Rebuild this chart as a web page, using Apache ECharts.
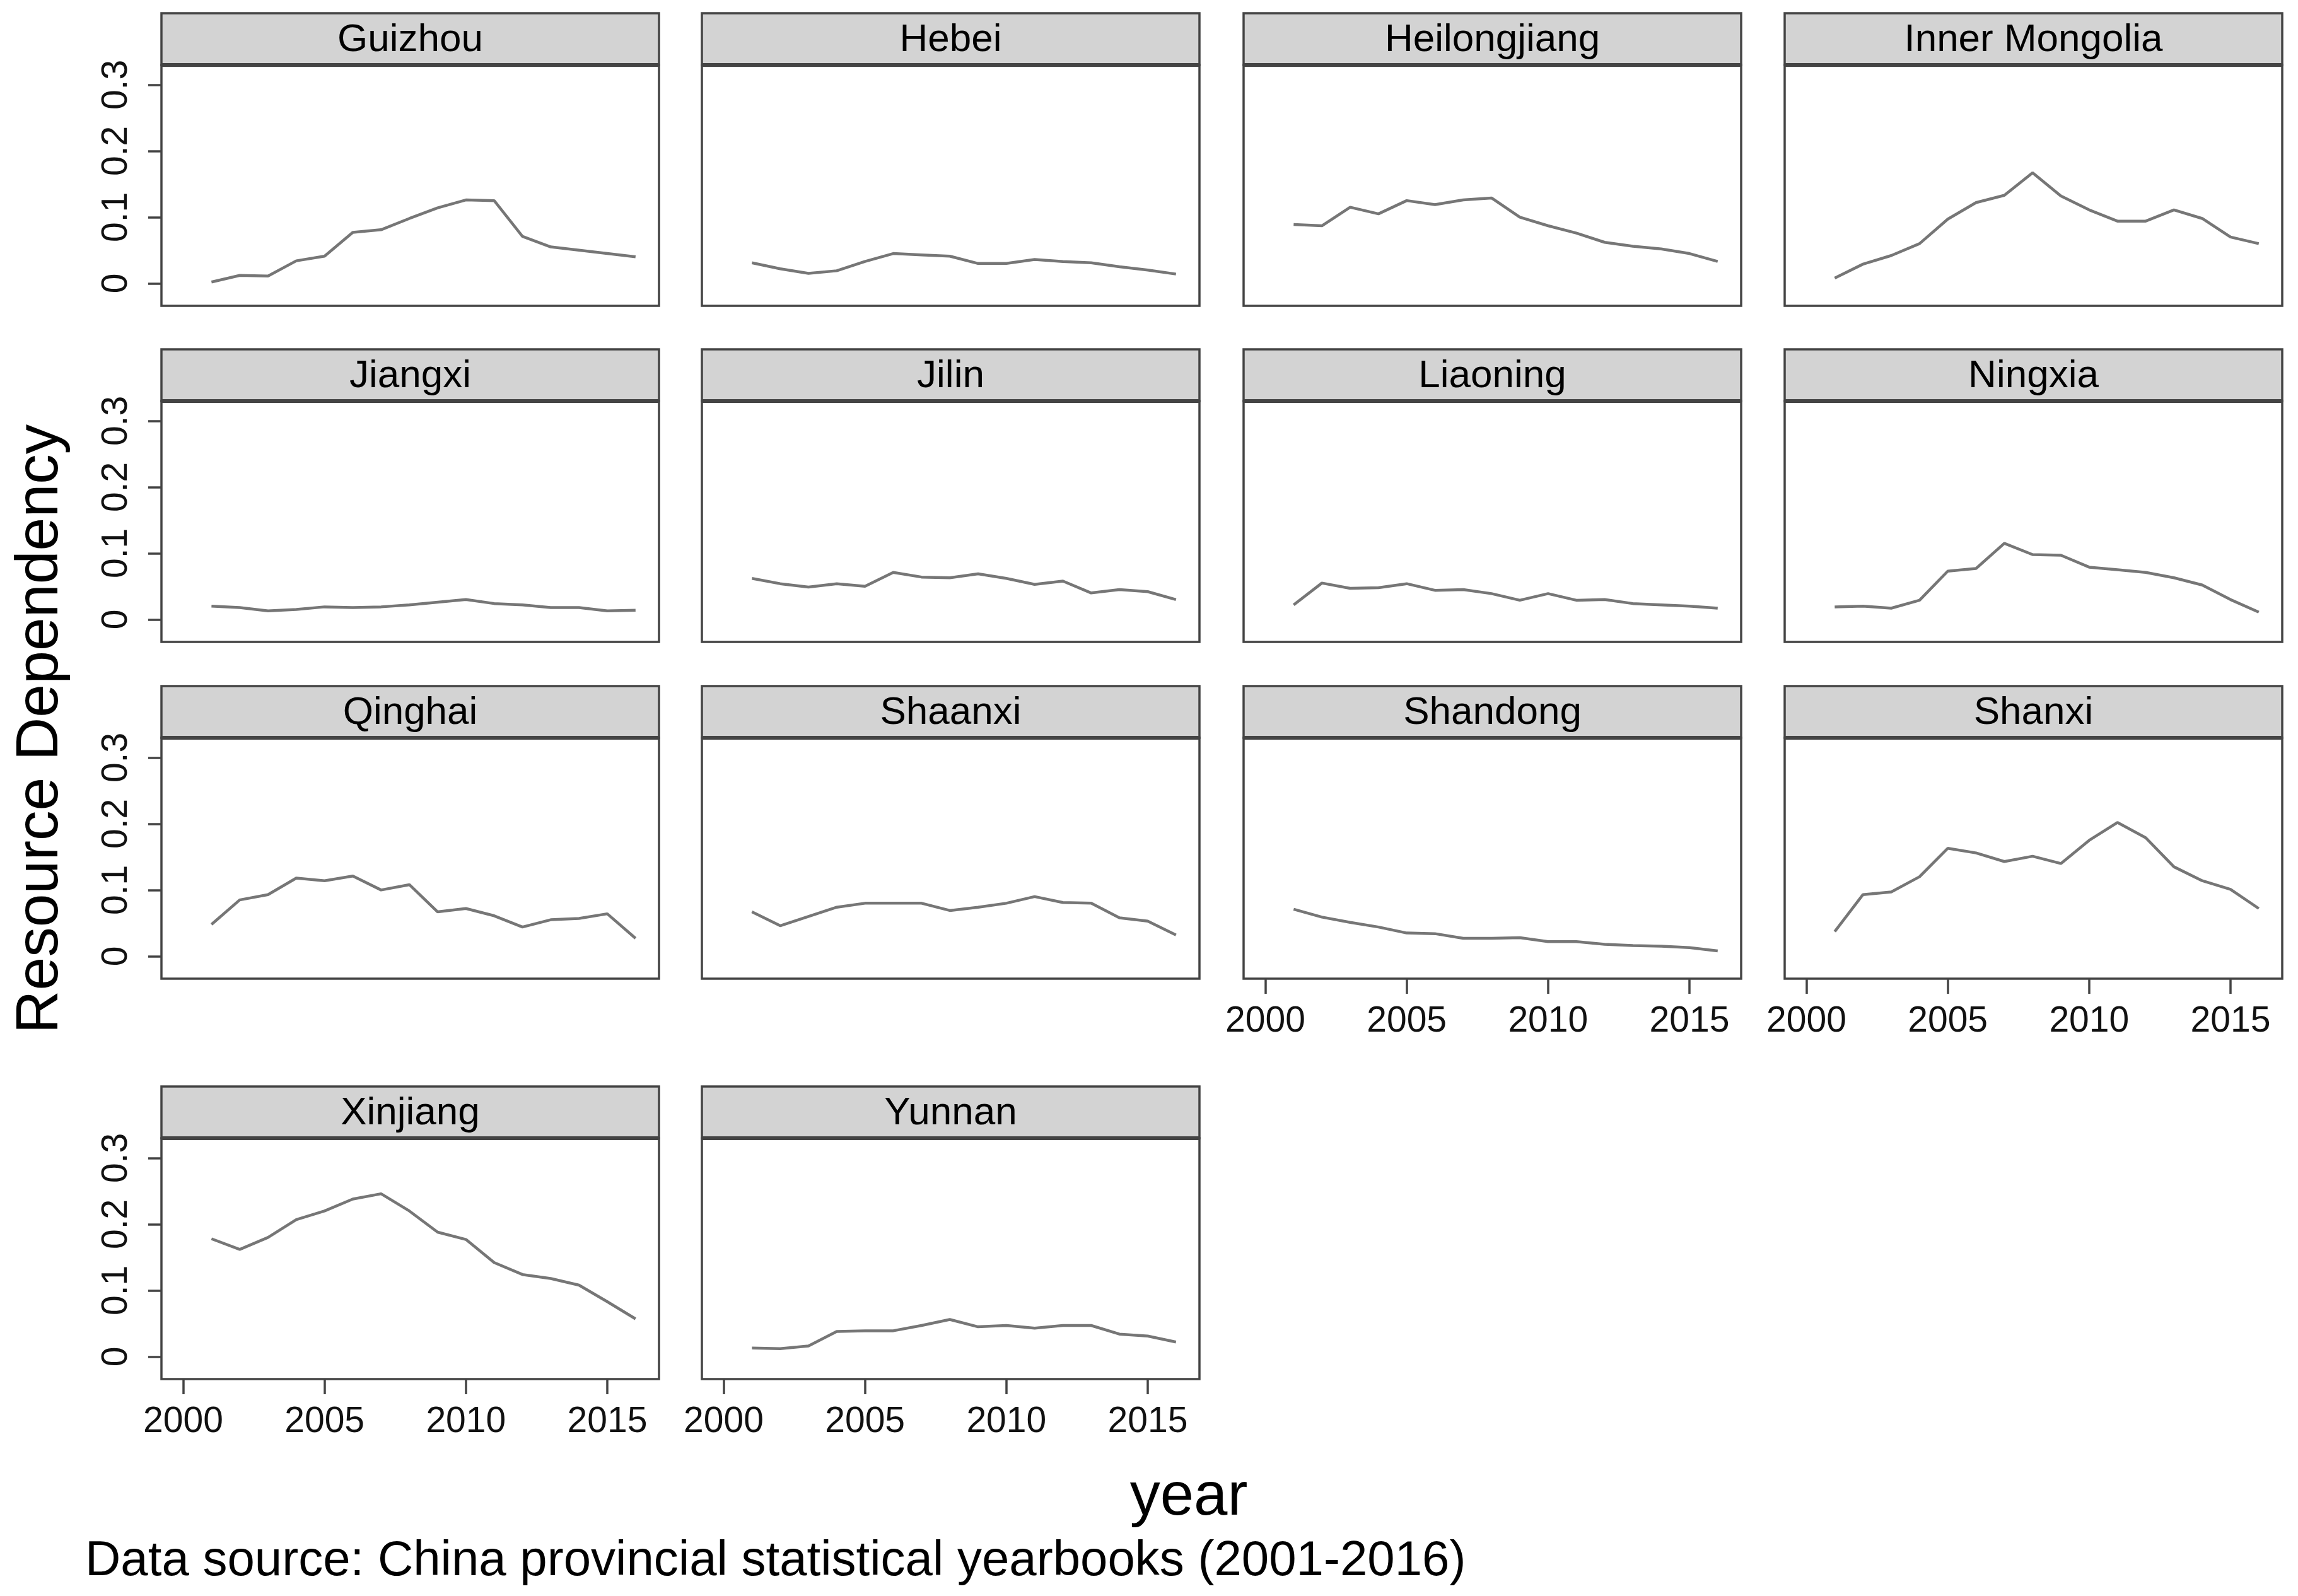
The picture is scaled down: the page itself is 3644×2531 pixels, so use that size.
<!DOCTYPE html>
<html><head><meta charset="utf-8">
<script src="https://cdn.jsdelivr.net/npm/echarts@6/dist/echarts.min.js"></script>
<style>html,body{margin:0;padding:0;background:#fff}#c{width:3644px;height:2531px}</style>
</head><body><div id="c"></div>
<script>
// ---- data ----
const years = [2001,2002,2003,2004,2005,2006,2007,2008,2009,2010,2011,2012,2013,2014,2015,2016];
const provinces = ["Guizhou","Hebei","Heilongjiang","Inner Mongolia","Jiangxi","Jilin","Liaoning","Ningxia","Qinghai","Shaanxi","Shandong","Shanxi","Xinjiang","Yunnan"];
const guizhou      = [0.002,0.012,0.011,0.034,0.041,0.077,0.081,0.098,0.114,0.126,0.125,0.071,0.055,0.050,0.045,0.040];
const hebei        = [0.031,0.022,0.015,0.019,0.033,0.045,0.043,0.041,0.030,0.030,0.036,0.033,0.031,0.025,0.020,0.014];
const heilongjiang = [0.089,0.087,0.115,0.105,0.125,0.119,0.126,0.129,0.100,0.087,0.076,0.062,0.056,0.052,0.045,0.033];
const innerMongolia= [0.008,0.029,0.042,0.060,0.097,0.122,0.133,0.167,0.132,0.111,0.094,0.094,0.111,0.098,0.070,0.060];
const jiangxi      = [0.020,0.018,0.013,0.015,0.019,0.018,0.019,0.022,0.026,0.030,0.024,0.022,0.018,0.018,0.013,0.014];
const jilin        = [0.062,0.054,0.049,0.054,0.050,0.071,0.064,0.063,0.069,0.062,0.053,0.058,0.040,0.045,0.042,0.030];
const liaoning     = [0.022,0.055,0.047,0.048,0.054,0.044,0.045,0.039,0.029,0.039,0.029,0.030,0.024,0.022,0.020,0.017];
const ningxia      = [0.019,0.020,0.017,0.029,0.073,0.077,0.115,0.098,0.097,0.079,0.075,0.071,0.063,0.052,0.030,0.011];
const qinghai      = [0.048,0.085,0.093,0.118,0.114,0.121,0.100,0.108,0.067,0.072,0.061,0.044,0.055,0.057,0.064,0.027];
const shaanxi      = [0.067,0.046,0.060,0.074,0.080,0.080,0.080,0.069,0.074,0.080,0.090,0.081,0.080,0.058,0.053,0.032];
const shandong     = [0.071,0.059,0.051,0.044,0.035,0.034,0.027,0.027,0.028,0.022,0.022,0.018,0.016,0.015,0.013,0.008];
const shanxi       = [0.037,0.093,0.097,0.120,0.163,0.156,0.143,0.151,0.140,0.175,0.202,0.179,0.135,0.114,0.101,0.072];
const xinjiang     = [0.178,0.162,0.180,0.207,0.220,0.238,0.246,0.220,0.188,0.177,0.142,0.124,0.118,0.108,0.083,0.057];
const yunnan       = [0.013,0.012,0.016,0.038,0.039,0.039,0.047,0.056,0.045,0.047,0.043,0.047,0.047,0.034,0.031,0.022];
const seriesValues = [guizhou,hebei,heilongjiang,innerMongolia,jiangxi,jilin,liaoning,ningxia,qinghai,shaanxi,shandong,shanxi,xinjiang,yunnan];
const yTicks = [0, 0.1, 0.2, 0.3];
const xTicks = [2000, 2005, 2010, 2015];

// ---- layout ----
const FONT = '"Liberation Sans", Arial, sans-serif';
const colLeft = [256, 1113, 1972, 2830];
const rowTop = [21, 554, 1088, 1723];
const PW = 789, SH = 82, PH = 382;
const BORDER = '#444444';

const grids = [], xAxes = [], yAxes = [], series = [], graphics = [];
provinces.forEach((name, i) => {
  const col = i % 4, row = Math.floor(i / 4);
  const left = colLeft[col], top = rowTop[row];
  const showX = row === 3 || (row === 2 && col >= 2);
  const showY = col === 0;
  grids.push({left: left, top: top + SH, width: PW, height: PH, show: true,
    borderColor: BORDER, borderWidth: 3.5, backgroundColor: 'rgba(0,0,0,0)'});
  xAxes.push({type: 'value', gridIndex: i, min: 1999.23, max: 2016.83,
    splitLine: {show: false}, axisLine: {show: false, onZero: false},
    axisTick: {show: showX, length: 24, customValues: xTicks, lineStyle: {color: BORDER, width: 3.5}},
    axisLabel: {show: showX, customValues: xTicks, margin: 40, fontSize: 57, color: '#111', fontFamily: FONT,
      formatter: v => String(Math.round(v))}});
  yAxes.push({type: 'value', gridIndex: i, min: -0.034, max: 0.33,
    splitLine: {show: false}, axisLine: {show: false, onZero: false},
    axisTick: {show: showY, length: 21, customValues: yTicks, lineStyle: {color: BORDER, width: 3.5}},
    axisLabel: {show: showY, customValues: yTicks, rotate: 90, margin: 42, fontSize: 57, color: '#111', fontFamily: FONT,
      formatter: v => v === 0 ? '0' : v.toFixed(1)}});
  series.push({type: 'line', xAxisIndex: i, yAxisIndex: i, symbol: 'none', silent: true,
    data: years.map((y, k) => [y, seriesValues[i][k]]),
    lineStyle: {color: '#767676', width: 4.5}});
  graphics.push({type: 'rect', shape: {x: left, y: top, width: PW, height: SH},
    style: {fill: '#d3d3d3', stroke: BORDER, lineWidth: 3.5}});
  graphics.push({type: 'line', shape: {x1: left, y1: top + SH, x2: left + PW, y2: top + SH},
    style: {stroke: BORDER, lineWidth: 6}});
  graphics.push({type: 'text', x: left + PW / 2, y: top + SH / 2 + 2,
    style: {text: name, fill: '#000', font: '62px ' + FONT, align: 'center', verticalAlign: 'middle'}});
});
graphics.push({type: 'text', x: 65, y: 1156, rotation: Math.PI / 2,
  style: {text: 'Resource Dependency', fill: '#000', font: '95px ' + FONT, align: 'center', verticalAlign: 'middle'}});
graphics.push({type: 'text', x: 1885, y: 2376,
  style: {text: 'year', fill: '#000', font: '96px ' + FONT, align: 'center', verticalAlign: 'middle'}});
graphics.push({type: 'text', x: 135, y: 2476,
  style: {text: 'Data source: China provincial statistical yearbooks (2001-2016)', fill: '#000', font: '78px ' + FONT, align: 'left', verticalAlign: 'middle'}});

const chart = echarts.init(document.getElementById('c'));
chart.setOption({animation: false, backgroundColor: '#fff',
  grid: grids, xAxis: xAxes, yAxis: yAxes, series: series, graphic: graphics});
</script></body></html>
